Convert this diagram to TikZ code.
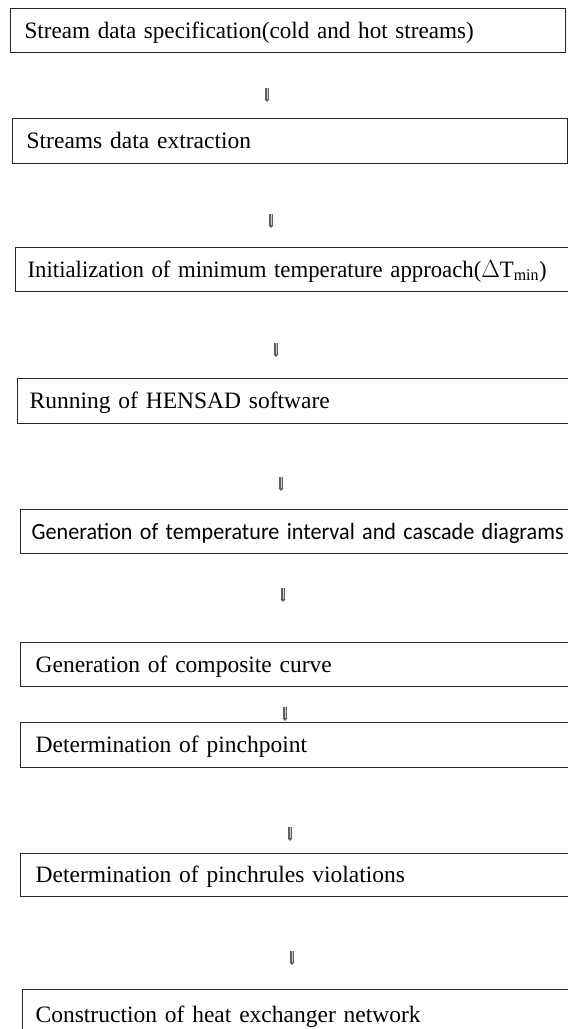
\documentclass[tikz,border=0pt]{standalone}
\usepackage{fontspec}
\setmainfont{Liberation Serif}
\newfontfamily\calibfont{Carlito}
\usetikzlibrary{arrows.meta}
\newlength\fitlen
\newcommand\fitw[2]{\settowidth\fitlen{#2}\pgfmathsetmacro\fitfac{#1/\fitlen}\scalebox{\fitfac}[1]{#2}}
\tikzset{
  stepbox/.style={draw=black!85, line width=1.3pt, anchor=north west, inner ysep=0pt,
    align=left, text height=15pt, text depth=0pt,
    font=\fontsize{23.5}{28}\selectfont},
  flowarrow/.style={draw=black!62, line width=3.4pt,
    -{Triangle[length=3pt,width=5pt]}},
  flowcore/.style={draw=black!22, line width=1pt, shorten >=3pt},
}
\begin{document}
\begin{tikzpicture}[x=1pt,y=-1pt]
\useasboundingbox (0,0) rectangle (568,1029);
\fill[white] (0,0) rectangle (568,1029);
\node[stepbox, minimum width=555pt, minimum height=44pt, inner xsep=14pt, text width=527pt] (b1) at (10,8) {\fitw{449}{Stream data specification(cold and hot streams)}};
\node[stepbox, minimum width=555pt, minimum height=45pt, inner xsep=14pt, text width=527pt] (b2) at (12,118) {Streams data extraction};
\node[stepbox, minimum width=580pt, minimum height=44pt, inner xsep=12pt, text width=556pt] (b3) at (15,247) {\fitw{519}{Initialization of minimum temperature approach(\(\Delta\)T\textsubscript{min})}};
\node[stepbox, minimum width=580pt, minimum height=45pt, inner xsep=12pt, text width=556pt] (b4) at (17,378) {Running of HENSAD software};
\node[stepbox, minimum width=580pt, minimum height=44pt, inner xsep=11pt, text width=558pt, font=\calibfont\fontsize{23.3}{28}\selectfont] (b5) at (20,509) {\fitw{532}{Generation of temperature interval and cascade diagrams}};
\node[stepbox, minimum width=580pt, minimum height=44pt, inner xsep=15pt, text width=550pt] (b6) at (20,642) {Generation of composite curve};
\node[stepbox, minimum width=580pt, minimum height=45pt, inner xsep=15pt, text width=550pt] (b7) at (20,722) {Determination of pinchpoint};
\node[stepbox, minimum width=580pt, minimum height=43pt, inner xsep=15pt, text width=550pt] (b8) at (20,853) {Determination of pinchrules violations};
\node[stepbox, minimum width=580pt, minimum height=50pt, inner xsep=13pt, text width=554pt] (b9) at (22,989) {Construction of heat exchanger network};
% arrows
\coordinate (a1s) at (267,88);  \coordinate (a1e) at (267,102);
\coordinate (a2s) at (271,214); \coordinate (a2e) at (271,228);
\coordinate (a3s) at (276,343); \coordinate (a3e) at (276,357);
\coordinate (a4s) at (281,477); \coordinate (a4e) at (281,491);
\coordinate (a5s) at (283,588); \coordinate (a5e) at (283,602);
\coordinate (a6s) at (285,707); \coordinate (a6e) at (285,721);
\coordinate (a7s) at (290,827); \coordinate (a7e) at (290,841);
\coordinate (a8s) at (292,951); \coordinate (a8e) at (292,965);
\foreach \i in {1,...,8} {\draw[flowarrow] (a\i s) -- (a\i e); \draw[flowcore] (a\i s) -- (a\i e);}
\end{tikzpicture}
\end{document}
